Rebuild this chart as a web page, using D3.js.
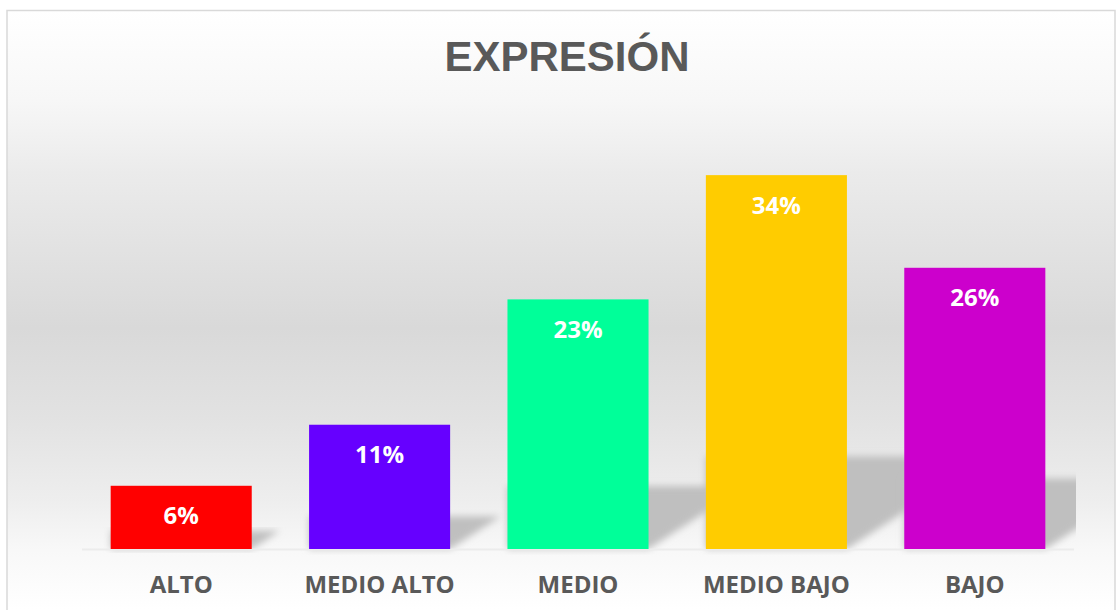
<!DOCTYPE html>
<html>
<head>
<meta charset="utf-8">
<script src="https://cdn.jsdelivr.net/npm/d3@7"></script>
<style>
  body { margin: 0; background: #fff; }
  svg { display: block; }
</style>
</head>
<body>
<div id="chart"></div>
<script>
// chart data
var categories = ["ALTO", "MEDIO ALTO", "MEDIO", "MEDIO BAJO", "BAJO"];
var shares = [0.058, 0.114, 0.229, 0.343, 0.258];
var barColors = ["#ff0000", "#6600ff", "#00ff99", "#ffcc00", "#cc00cc"];
var chartTitle = "EXPRESIÓN";

var svgWidth = 1116;
var svgHeight = 610;

var svg = d3.select("#chart")
  .append("svg")
  .attr("width", svgWidth)
  .attr("height", svgHeight);

var defs = svg.append("defs");

// background gradient: white -> grey -> white
var grad = defs.append("linearGradient")
  .attr("id", "bg")
  .attr("gradientUnits", "userSpaceOnUse")
  .attr("x1", 0).attr("y1", 10)
  .attr("x2", 0).attr("y2", 610);
[[0, "#ffffff"], [0.15, "#f7f7f7"], [0.27, "#ebebeb"], [0.53, "#d9d9d9"],
 [0.68, "#e2e2e2"], [0.82, "#eeeeee"], [0.9, "#f8f8f8"], [1, "#ffffff"]]
  .forEach(function(s) {
    grad.append("stop").attr("offset", s[0]).attr("stop-color", s[1]);
  });

defs.append("filter")
  .attr("id", "blur")
  .attr("x", "-20%").attr("y", "-20%")
  .attr("width", "140%").attr("height", "140%")
  .append("feGaussianBlur")
  .attr("stdDeviation", 3.5);

// plot area clip (shadows get cut at the plot edge)
defs.append("clipPath")
  .attr("id", "plotClip")
  .append("rect")
  .attr("x", 82).attr("y", 100)
  .attr("width", 1076 - 82).attr("height", 455);

// chart box
svg.append("rect")
  .attr("x", 7)
  .attr("y", 10.5)
  .attr("width", 1108)
  .attr("height", 620)
  .attr("fill", "url(#bg)")
  .attr("stroke", "#d9d9d9")
  .attr("stroke-width", 1.5);

svg.append("text")
  .attr("x", 567)
  .attr("y", 71)
  .attr("text-anchor", "middle")
  .attr("font-family", "'Liberation Sans', Arial, sans-serif")
  .attr("font-weight", "bold")
  .attr("font-size", 42)
  .attr("fill", "#595959")
  .text(chartTitle);

// scales
var xScale = d3.scaleBand()
  .domain(categories)
  .range([82, 1074])
  .paddingInner(0.289)
  .paddingOuter(0.1445);

var yScale = d3.scaleLinear()
  .domain([0, 0.4])
  .range([549, 113]);

var color = d3.scaleOrdinal()
  .domain(categories)
  .range(barColors);

var data = categories.map(function(c, i) {
  return { cat: c, value: shares[i] };
});

var chartGroup = svg.append("g");

// perspective shadows behind the bars
var base = yScale(0);
chartGroup.append("g")
  .attr("clip-path", "url(#plotClip)")
  .selectAll(".shadow")
  .data(data)
  .enter()
  .append("path")
  .attr("class", "shadow")
  .attr("fill", "#bfbfbf")
  .attr("filter", "url(#blur)")
  .attr("d", function(d) {
    var x0 = xScale(d.cat);
    var x1 = x0 + xScale.bandwidth();
    var h = base - yScale(d.value);
    var top = base - 0.24 * h - 3;
    var dx = (base - top) / 0.65;
    return "M" + x0 + "," + base + "L" + x1 + "," + base +
      "L" + (x1 + dx) + "," + top +
      "L" + x0 + "," + top + "Z";
  });

// x axis
var bottomAxis = d3.axisBottom(xScale).tickSize(0).tickPadding(26.5);
var axisG = chartGroup.append("g")
  .attr("transform", "translate(0," + (base + 0.5) + ")")
  .call(bottomAxis);
axisG.select(".domain").attr("stroke", "#ececec").attr("stroke-width", 2)
  .attr("d", "M" + 82 + ",0H" + 1074);
axisG.selectAll("text")
  .attr("font-family", "'Open Sans', sans-serif")
  .attr("font-weight", "bold")
  .attr("font-size", 24)
  .attr("fill", "#595959");

// bars
chartGroup.selectAll(".bar")
  .data(data)
  .enter()
  .append("rect")
  .attr("class", "bar")
  .attr("x", d => xScale(d.cat))
  .attr("y", d => yScale(d.value))
  .attr("width", xScale.bandwidth())
  .attr("height", d => base - yScale(d.value))
  .attr("fill", d => color(d.cat));

// value labels
var pct = d3.format(".0%");
chartGroup.selectAll(".lbl")
  .data(data)
  .enter()
  .append("text")
  .attr("class", "lbl")
  .attr("x", d => xScale(d.cat) + xScale.bandwidth() / 2)
  .attr("y", d => yScale(d.value) + 38.5)
  .attr("text-anchor", "middle")
  .attr("font-family", "'Open Sans', sans-serif")
  .attr("font-weight", "bold")
  .attr("font-size", 24)
  .attr("fill", "#ffffff")
  .text(d => pct(d.value));
</script>
</body>
</html>
